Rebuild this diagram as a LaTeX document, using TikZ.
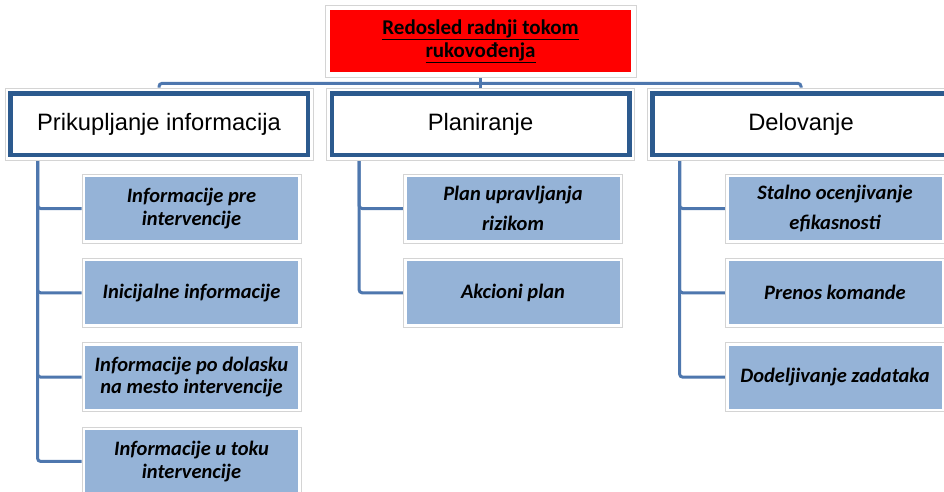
\documentclass[tikz,border=0pt]{standalone}
\usepackage{fontspec}
\setmainfont{Liberation Sans}
\newfontfamily\calibri{Carlito}
\usetikzlibrary{positioning,backgrounds}
\definecolor{HeadRed}{HTML}{FF0000}
\definecolor{FrameGray}{HTML}{D4D4D4}
\definecolor{BorderBlue}{HTML}{2C5A8E}
\definecolor{LinkBlue}{HTML}{4E77AE}
\definecolor{TaskBlue}{HTML}{95B3D7}

\begin{document}
\begin{tikzpicture}[x=1pt, y=-1pt,
  frame/.style={draw=FrameGray, line width=0.8pt, fill=white, inner sep=0pt, align=center},
  head/.style={frame, minimum width=311pt, minimum height=72pt, font=\calibri\bfseries\fontsize{21}{23}\selectfont,
    path picture={\fill[HeadRed] ([shift={(5pt,-5pt)}]path picture bounding box.north west) rectangle ([shift={(-5pt,5pt)}]path picture bounding box.south east);}},
  phase/.style={frame, minimum width=308pt, minimum height=72pt, font=\fontsize{23.7}{27}\selectfont,
    path picture={\draw[BorderBlue, line width=4.5pt] ([shift={(5.25pt,-5.25pt)}]path picture bounding box.north west) rectangle ([shift={(-5.25pt,5.25pt)}]path picture bounding box.south east);}},
  task/.style={frame, minimum width=219pt, minimum height=69pt, font=\calibri\bfseries\itshape\fontsize{20.5}{22.5}\selectfont,
    path picture={\fill[TaskBlue] ([shift={(3pt,-3pt)}]path picture bounding box.north west) rectangle ([shift={(-3pt,3pt)}]path picture bounding box.south east);}},
  link/.style={draw=LinkBlue, line width=3pt, rounded corners=3pt},
  node distance=14.5pt]
\useasboundingbox (0,0) rectangle (944,491);
\node[head] (order) at (480.5,41) {\underline{Redosled radnji tokom}\\\underline{rukovođenja}};
\node[phase] (collect) at (159,124) {Prikupljanje informacija};
\node[phase] (plan) at (480.5,124) {Planiranje};
\node[phase] (act) at (801,124) {Delovanje};
% prikupljanje
\node[task] (c1) at (191.5,208.5) {Informacije pre\\intervencije};
\node[task, below=of c1] (c2) {Inicijalne informacije};
\node[task, below=of c2] (c3) {Informacije po dolasku\\na mesto intervencije};
\node[task, below=of c3] (c4) {Informacije u toku\\intervencije};
% planiranje
\node[task] (p1) at (513,208.5) {Plan upravljanja\\[7pt]rizikom};
\node[task, below=of p1] (p2) {Akcioni plan};
% delovanje
\node[task] (a1) at (835,208.5) {Stalno ocenjivanje\\[7pt]efikasnosti};
\node[task, below=of a1] (a2) {Prenos komande};
\node[task, below=of a2] (a3) {Dodeljivanje zadataka};
\coordinate (bus) at ([yshift=-6pt]order.south);
\begin{scope}[on background layer]
\draw[link] (order) -- (plan);
\draw[link] (collect.north) |- (bus) -| (act.north);
\foreach \p/\c in {collect/c1,collect/c2,collect/c3,collect/c4,plan/p1,plan/p2,act/a1,act/a2,act/a3}
  \draw[link] ([xshift=33pt]\p.south west) |- (\c.west);
\end{scope}
\end{tikzpicture}
\end{document}
